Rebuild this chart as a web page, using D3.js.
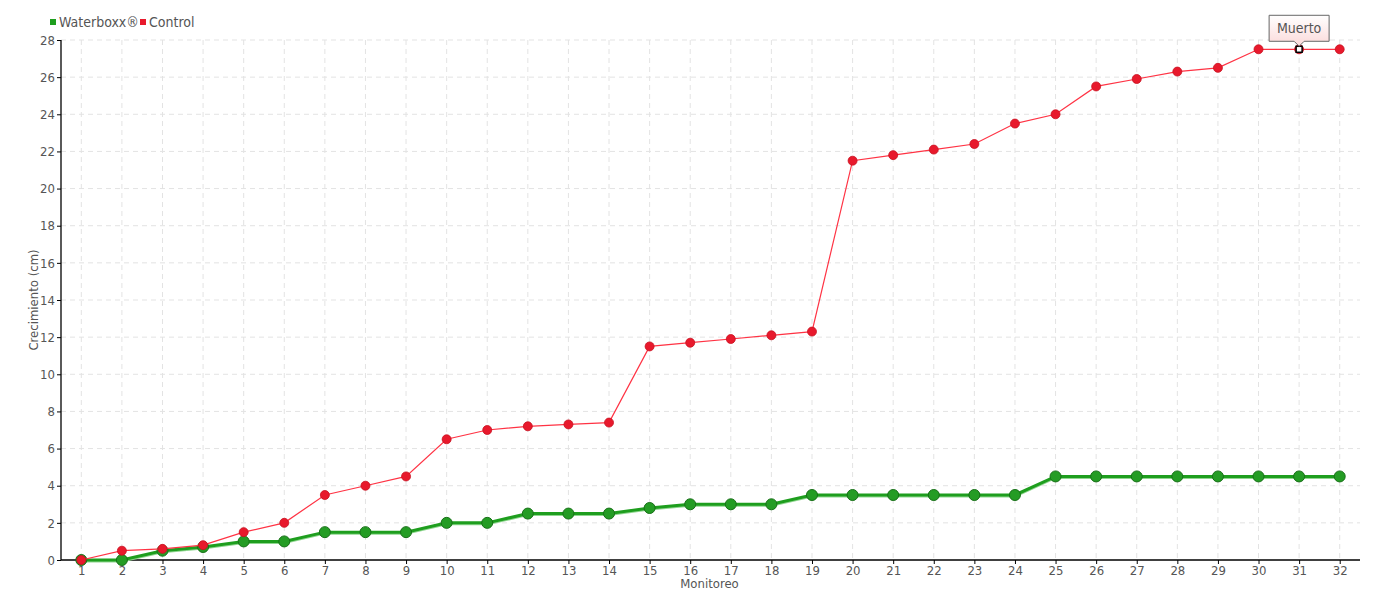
<!DOCTYPE html>
<html><head><meta charset="utf-8">
<script src="https://cdn.jsdelivr.net/npm/d3@7"></script>
<style>
body{margin:0;background:#fff;}
text{font-family:"DejaVu Sans Condensed","DejaVu Sans",sans-serif;font-stretch:condensed;}
</style></head>
<body><svg id="c" width="1380" height="600"></svg>
<script>
const categories = d3.range(1,33).map(String);
const waterboxx = [0,0,0.5,0.7,1,1,1.5,1.5,1.5,2,2,2.5,2.5,2.5,2.8,3,3,3,3.5,3.5,3.5,3.5,3.5,3.5,4.5,4.5,4.5,4.5,4.5,4.5,4.5,4.5];
const control = [0,0.5,0.6,0.8,1.5,2,3.5,4,4.5,6.5,7,7.2,7.3,7.4,11.5,11.7,11.9,12.1,12.3,21.5,21.8,22.1,22.4,23.5,24,25.5,25.9,26.3,26.5,27.5,27.5,27.5];
const yTicks = d3.range(0,29,2);
const seriesNames = ["Waterboxx®","Control"];
const annotation = {index:30, label:"Muerto"};

const svg = d3.select("#c");
const L=61,R=1360,T=40,B=560;
const x = d3.scalePoint().domain(categories).range([L,R]).padding(0.5);
const y = d3.scaleLinear().domain([0,28]).range([B,T]);

// grid
const g = svg.append("g");
g.selectAll(".hg").data(yTicks.filter(d=>d>0)).join("line")
 .attr("x1",L).attr("x2",R).attr("y1",d=>y(d)).attr("y2",d=>y(d))
 .attr("stroke","#e3e3e3").attr("stroke-dasharray","5,4");
g.selectAll(".vg").data(categories).join("line")
 .attr("x1",d=>x(d)).attr("x2",d=>x(d)).attr("y1",T).attr("y2",B)
 .attr("stroke","#e3e3e3").attr("stroke-dasharray","5,4");

// axes
const xa = svg.append("g").attr("transform",`translate(0,${B})`)
 .call(d3.axisBottom(x).tickSize(4).tickPadding(2).tickSizeOuter(0));
const ya = svg.append("g").attr("transform",`translate(${L},0)`)
 .call(d3.axisLeft(y).tickValues(yTicks).tickSize(4).tickPadding(2).tickSizeOuter(0));
[xa,ya].forEach(a=>{
 a.select(".domain").attr("stroke","#000").attr("stroke-width",1.3);
 a.selectAll(".tick line").attr("stroke","#000");
 a.selectAll(".tick text").attr("fill","#555").style("font-size","13px");
});
xa.select(".domain").attr("d",`M${L},0H${R}`);
ya.select(".domain").attr("d",`M0,${T}V${B}`);

// axis titles
svg.append("text").attr("x",(L+R)/2-1).attr("y",588).attr("text-anchor","middle")
 .attr("fill","#555").style("font-size","13px").text("Monitoreo");
svg.append("text").attr("transform",`translate(38,300) rotate(-90)`).attr("text-anchor","middle")
 .attr("fill","#555").style("font-size","13px").text("Crecimiento (cm)");

const line = d3.line().x((d,i)=>x(categories[i])).y(d=>y(d));

// green series
svg.append("path").datum(waterboxx).attr("d",line).attr("fill","none")
 .attr("stroke","#8fd68f").attr("stroke-width",3).attr("transform","translate(0,1)");
svg.append("path").datum(waterboxx).attr("d",line).attr("fill","none")
 .attr("stroke","#1e9e1e").attr("stroke-width",3);
svg.selectAll(".gp").data(waterboxx).join("circle")
 .attr("cx",(d,i)=>x(categories[i])).attr("cy",d=>y(d)).attr("r",5.5)
 .attr("fill","#249c24").attr("stroke","#177017").attr("stroke-width",1);

// red series
svg.append("path").datum(control).attr("d",line).attr("fill","none")
 .attr("stroke","#ff3344").attr("stroke-width",1.2);
svg.selectAll(".rp").data(control).join("circle")
 .attr("cx",(d,i)=>x(categories[i])).attr("cy",d=>y(d)).attr("r",4.5)
 .attr("fill","#e8192c").attr("stroke","#c8101f").attr("stroke-width",0.8);

// annotation marker
const ax = x(categories[annotation.index]), ay = y(control[annotation.index]);
svg.append("rect").attr("x",ax-3).attr("y",ay-3).attr("width",6).attr("height",6)
 .attr("fill","#fff").attr("stroke","#000").attr("stroke-width",1.5);
const defs = svg.append("defs");
const gr = defs.append("linearGradient").attr("id","tg").attr("x1",0).attr("x2",0).attr("y1",0).attr("y2",1);
gr.append("stop").attr("offset","0%").attr("stop-color","#ffffff");
gr.append("stop").attr("offset","100%").attr("stop-color","#fbd9d9");
const bw=60,bh=26,bx=ax-30,by=ay-34;
svg.append("path")
 .attr("d",`M${bx},${by}H${bx+bw}V${by+bh}H${ax+5}L${ax},${by+bh+5}L${ax-5},${by+bh}H${bx}Z`)
 .attr("fill","url(#tg)").attr("stroke","#666").attr("stroke-width",1);
svg.append("text").attr("x",bx+bw/2).attr("y",by+18).attr("text-anchor","middle")
 .attr("fill","#555").style("font-size","14px").text(annotation.label);

// legend
const lg = svg.append("g");
const colors=["#1e9e1e","#e8192c"];
const lx=[50,140];
seriesNames.forEach((n,i)=>{
 lg.append("rect").attr("x",lx[i]).attr("y",19).attr("width",6).attr("height",6).attr("fill",colors[i]);
 lg.append("text").attr("x",lx[i]+9).attr("y",27).attr("fill","#555").style("font-size","14px").text(n);
});
</script></body></html>
